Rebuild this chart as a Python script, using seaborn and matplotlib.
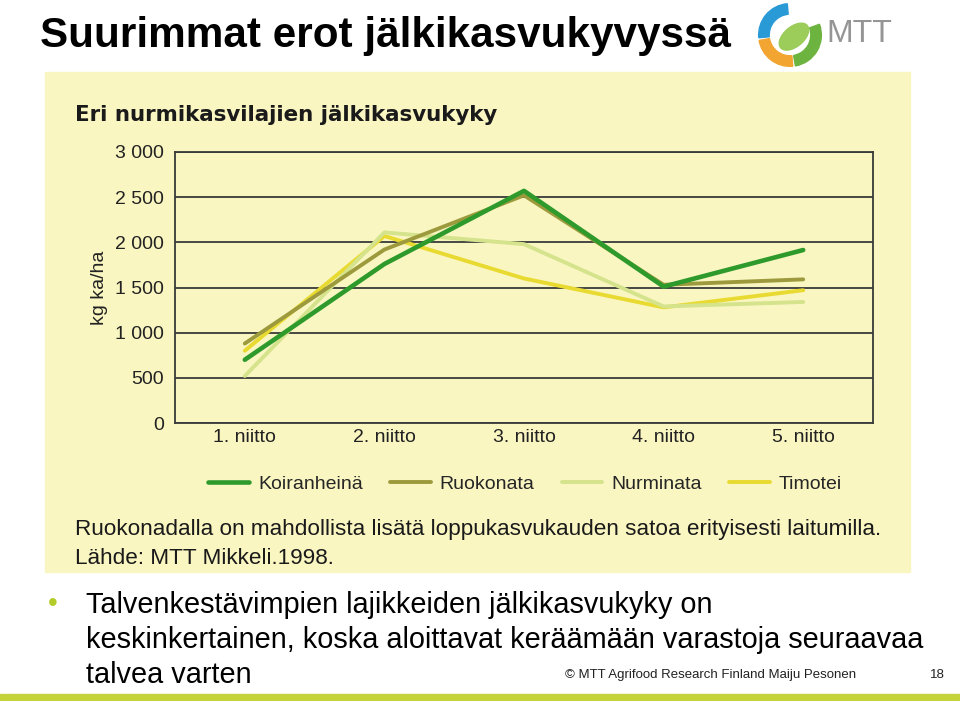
import pandas as pd
import matplotlib.pyplot as plt
import seaborn as sns
from matplotlib.patches import Rectangle, Wedge, Ellipse

# values (kg ka/ha)
niitot = ["1. niitto", "2. niitto", "3. niitto", "4. niitto", "5. niitto"]
koiranheina = [700, 1760, 2570, 1510, 1915]
ruokonata = [880, 1920, 2520, 1530, 1590]
nurminata = [520, 2110, 1980, 1290, 1340]
timotei = [800, 2070, 1600, 1280, 1470]

lajit = ["Koiranheinä", "Ruokonata", "Nurminata", "Timotei"]
varit = ["#2f9a2c", "#9c9a3c", "#d4e38c", "#e8da30"]
paksuus = [3.3, 2.8, 2.8, 2.8]

df = pd.DataFrame({
    "niitto": niitot * 4,
    "kg": koiranheina + ruokonata + nurminata + timotei,
    "laji": sum([[l] * 5 for l in lajit], []),
})

sns.set_style("white")
plt.rcParams["font.family"] = ["Liberation Sans", "DejaVu Sans"]

W, H = 960, 701
fig = plt.figure(figsize=(9.6, 7.01), dpi=100, facecolor="white")


def fx(px):
    return px / W


def fy(py):
    return 1 - py / H


# scanned picture background
fig.patches.append(Rectangle((fx(45), fy(572)), fx(865), (572 - 72) / H,
                             transform=fig.transFigure, color="#faf6c2", zorder=-5))
# bottom bar
fig.patches.append(Rectangle((0, 0), 1, 7 / H, transform=fig.transFigure,
                             color="#c5d33a", zorder=-5))

# slide title
fig.text(fx(40), fy(36), "Suurimmat erot jälkikasvukyvyssä", fontsize=30.4,
         fontweight="bold", va="center", ha="left", color="black")

# logo
lax = fig.add_axes([fx(752), fy(68), fx(76), 66 / H])
lax.set_xlim(-1, 1)
lax.set_ylim(-1, 1)
lax.set_aspect("equal")
lax.axis("off")
lax.add_patch(Wedge((0, 0), 0.95, 95, 185, width=0.32, color="#2a9ad6"))
lax.add_patch(Wedge((0, 0), 0.95, 190, 275, width=0.32, color="#f2a531"))
lax.add_patch(Wedge((0, 0), 0.95, 280, 20, width=0.32, color="#6cb33f"))
lax.add_patch(Ellipse((0.12, -0.05), 1.05, 0.6, angle=40, color="#9ccc5a"))
fig.text(fx(826), fy(34), "MTT", fontsize=23, color="#959595", va="center",
         ha="left")

# chart
ax = fig.add_axes([fx(175), fy(423), fx(873 - 175), (423 - 152) / H])
ax.set_facecolor("none")
for laji, vari, lw in reversed(list(zip(lajit, varit, paksuus))):
    sns.lineplot(data=df[df["laji"] == laji], x="niitto", y="kg", color=vari,
                 linewidth=lw, sort=False, ax=ax, label=laji)

ax.set_xlim(-0.5, 4.5)
ax.set_ylim(0, 3000)
ax.set_yticks(range(0, 3001, 500))
ax.set_yticklabels(["0", "500", "1 000", "1 500", "2 000", "2 500", "3 000"],
                   fontsize=14, color="#222222")
ax.set_xticks(range(5))
ax.set_xticklabels(niitot, fontsize=14, color="#222222")
ax.set_xticks([0.5, 1.5, 2.5, 3.5], minor=True)
ax.tick_params(axis="x", which="major", length=0, pad=4)
ax.tick_params(axis="x", which="minor", length=6, direction="in", color="#333333")
ax.tick_params(axis="y", length=0, pad=8)
ax.grid(axis="y", color="#3a3a3a", linewidth=1.3)
ax.set_axisbelow(True)
for s in ax.spines.values():
    s.set_color("#3a3a3a")
    s.set_linewidth(1.3)
ax.set_xlabel("")
ax.set_ylabel("kg ka/ha", fontsize=14, color="#222222", labelpad=5)

handles, labels = ax.get_legend_handles_labels()
order = [labels.index(l) for l in lajit]
ax.legend([handles[i] for i in order], lajit, loc="center",
          bbox_to_anchor=(fx(525), fy(484)), bbox_transform=fig.transFigure,
          ncol=4, frameon=False, handlelength=2.1, columnspacing=1.4,
          handletextpad=0.45, prop={"size": 14})

# chart texts
fig.text(fx(75), fy(115), "Eri nurmikasvilajien jälkikasvukyky", fontsize=15.4,
         fontweight="bold", color="#1a1a1a", va="center", family="DejaVu Sans")
fig.text(fx(75), fy(529), "Ruokonadalla on mahdollista lisätä loppukasvukauden "
         "satoa erityisesti laitumilla.", fontsize=16.2,
         color="#1a1a1a", va="center")
fig.text(fx(75), fy(558), "Lähde: MTT Mikkeli.1998.", fontsize=16.2,
         color="#1a1a1a", va="center")

# bullet text
fig.text(fx(48), fy(604), "•", fontsize=20, color="#b4cc2a", va="center")
bullet = ["Talvenkestävimpien lajikkeiden jälkikasvukyky on",
          "keskinkertainen, koska aloittavat keräämään varastoja seuraavaa",
          "talvea varten"]
for i, rivi in enumerate(bullet):
    fig.text(fx(86), fy(605 + 35 * i), rivi, fontsize=20.8, color="black",
             va="center")

fig.text(fx(565), fy(675), "© MTT Agrifood Research Finland Maiju Pesonen",
         fontsize=9.5, color="#222222", va="center")
fig.text(fx(930), fy(675), "18", fontsize=9.5, color="#222222", va="center")

fig.savefig("out.png", dpi=100, facecolor="white")
